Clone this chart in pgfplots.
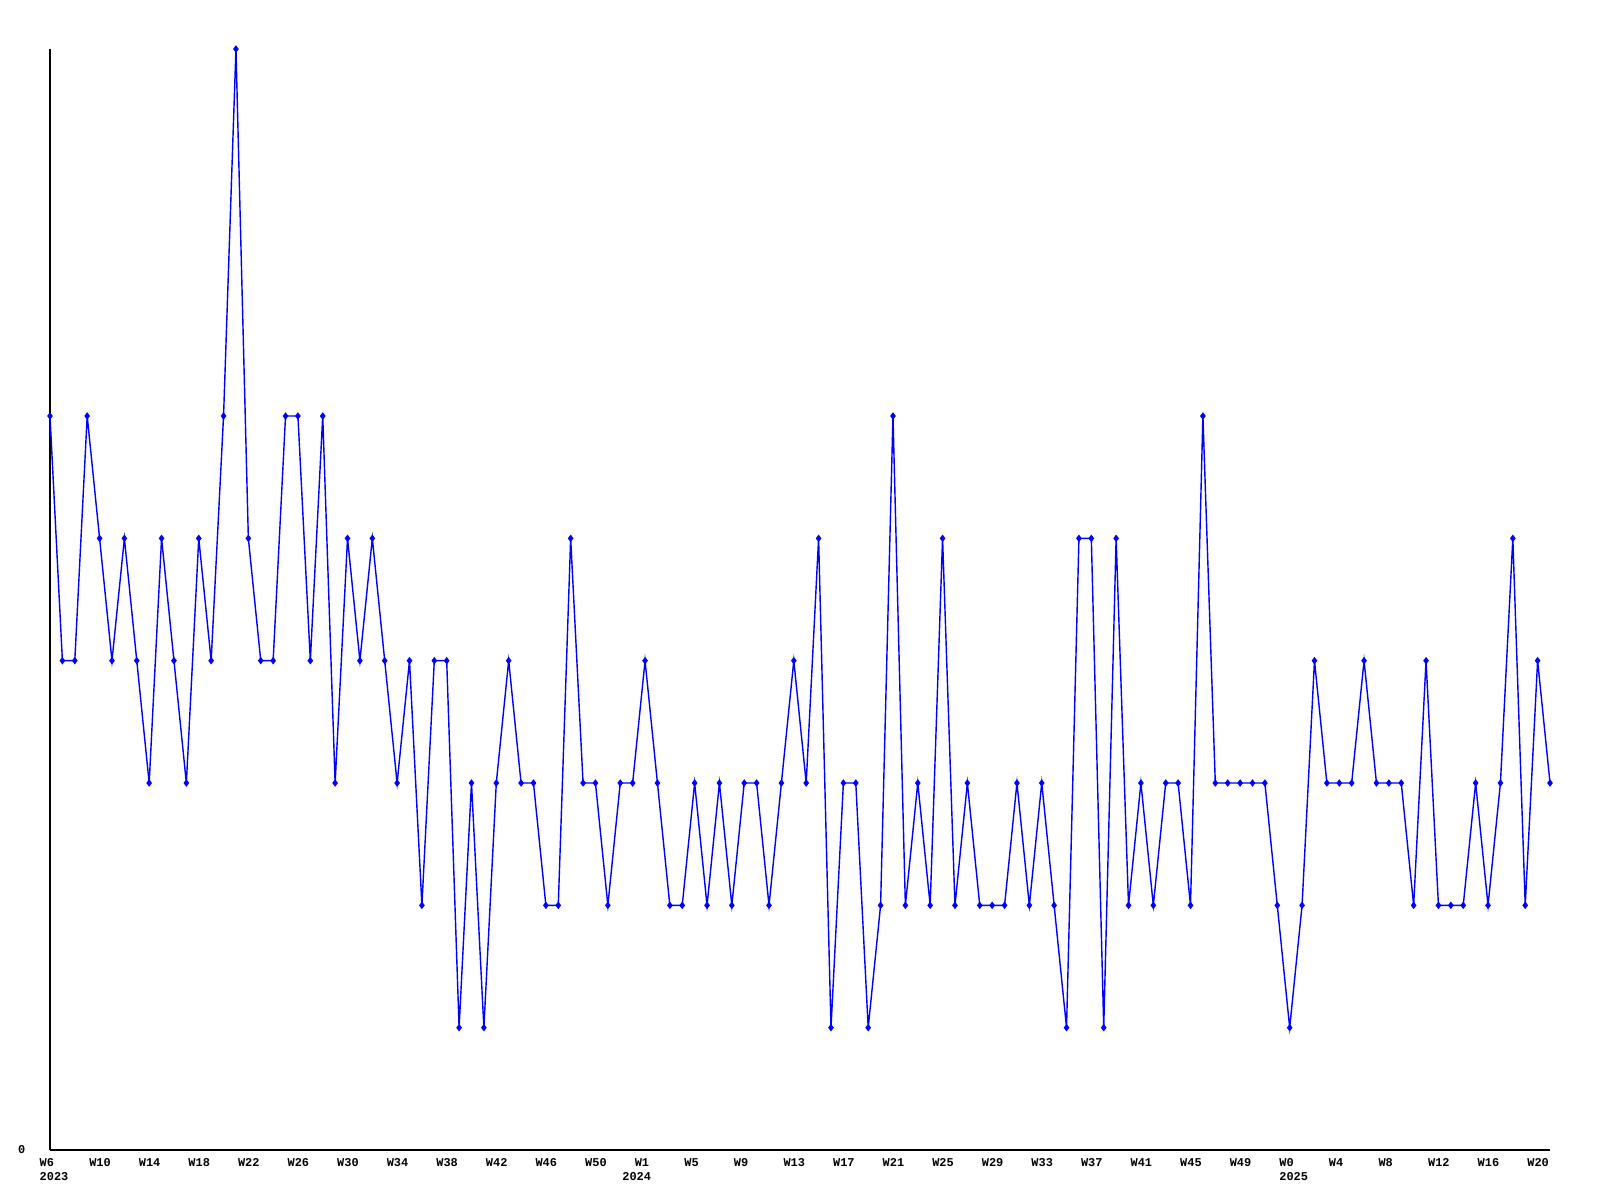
\documentclass[border=0pt]{standalone}
\usepackage{fontspec}
\setmainfont{Liberation Mono}
\usepackage{pgfplots}
\pgfplotsset{compat=1.18}
\begin{document}
\begin{tikzpicture}
\path[use as bounding box] (0,0) rectangle (16cm,12cm);
\begin{axis}[
 at={(0.5cm,0.5cm)}, anchor=south west,
 scale only axis, width=15cm, height=11.01cm,
 xmin=0, xmax=121, ymin=0, ymax=9,
 axis x line*=bottom, axis y line*=left,
 axis line style={black, line width=0.4pt, -},
 clip=false,
 major tick length=0pt,
 xtick={0,4,...,120},
 xticklabels={W6,W10,W14,W18,W22,W26,W30,W34,W38,W42,W46,W50,W1,W5,W9,W13,W17,W21,W25,W29,W33,W37,W41,W45,W49,W0,W4,W8,W12,W16,W20},
 ytick={0}, yticklabels={0},
 tick label style={font=\fontsize{3.4pt}{4pt}\selectfont\bfseries, inner sep=0pt},
 xticklabel style={anchor=north west, xshift=-0.11cm, yshift=-0.075cm},
 yticklabel style={anchor=east, xshift=-0.24cm},
 extra x ticks={0,47,100},
 extra x tick labels={2023,2024,2025},
 extra x tick style={xticklabel style={yshift=-0.145cm}},
]
\addplot[color={rgb,255:red,0;green,0;blue,255}, line width=0.4pt, mark=diamond*, mark size=0.75pt, mark options={solid}] coordinates {
(0,6)(1,4)(2,4)(3,6)(4,5)(5,4)(6,5)(7,4)(8,3)(9,5)(10,4)(11,3)(12,5)(13,4)(14,6)(15,9)(16,5)(17,4)(18,4)(19,6)
(20,6)(21,4)(22,6)(23,3)(24,5)(25,4)(26,5)(27,4)(28,3)(29,4)(30,2)(31,4)(32,4)(33,1)(34,3)(35,1)(36,3)(37,4)(38,3)(39,3)
(40,2)(41,2)(42,5)(43,3)(44,3)(45,2)(46,3)(47,3)(48,4)(49,3)(50,2)(51,2)(52,3)(53,2)(54,3)(55,2)(56,3)(57,3)(58,2)(59,3)
(60,4)(61,3)(62,5)(63,1)(64,3)(65,3)(66,1)(67,2)(68,6)(69,2)(70,3)(71,2)(72,5)(73,2)(74,3)(75,2)(76,2)(77,2)(78,3)(79,2)
(80,3)(81,2)(82,1)(83,5)(84,5)(85,1)(86,5)(87,2)(88,3)(89,2)(90,3)(91,3)(92,2)(93,6)(94,3)(95,3)(96,3)(97,3)(98,3)(99,2)
(100,1)(101,2)(102,4)(103,3)(104,3)(105,3)(106,4)(107,3)(108,3)(109,3)(110,2)(111,4)(112,2)(113,2)(114,2)(115,3)(116,2)(117,3)(118,5)(119,2)
(120,4)(121,3)
};
\end{axis}
\end{tikzpicture}
\end{document}
